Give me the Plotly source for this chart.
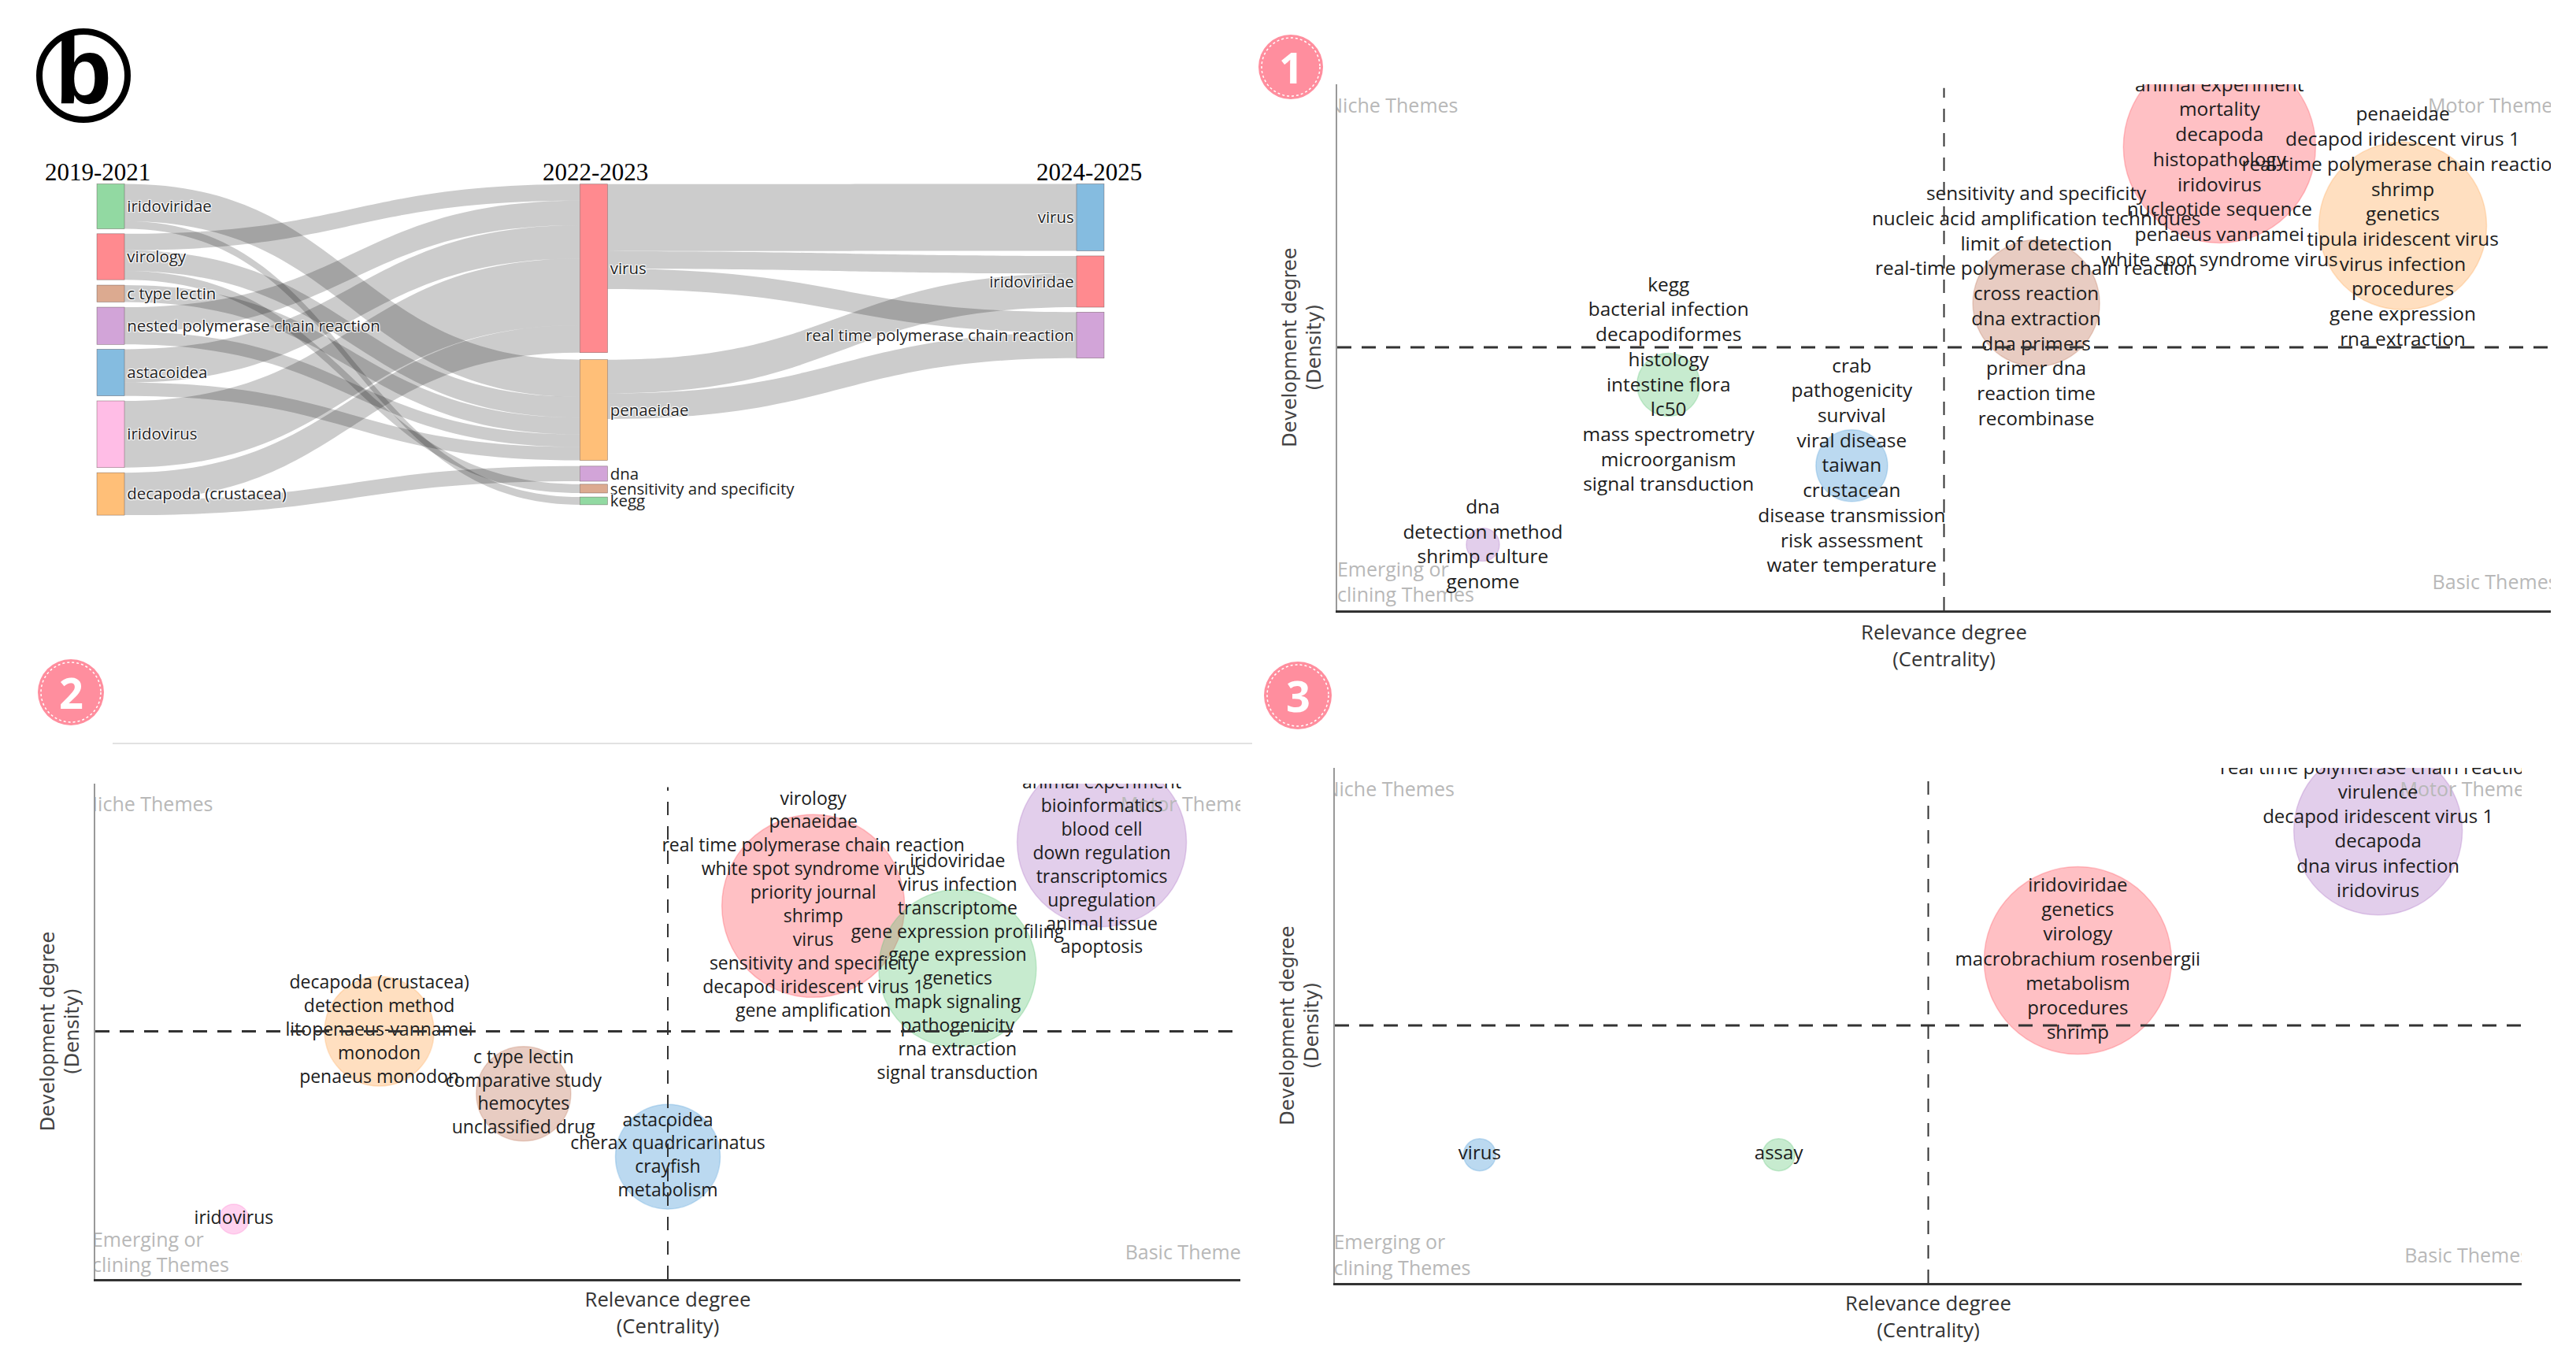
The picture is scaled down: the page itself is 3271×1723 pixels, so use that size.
import plotly.graph_objects as go

W, H = 3271, 1723
LABEL_FONT = "Open Sans"

# ---------- Sankey data ----------
node_labels = ["iridoviridae", "virology", "c type lectin", "nested polymerase chain reaction",
               "astacoidea", "iridovirus", "decapoda (crustacea)",
               "virus", "penaeidae", "dna", "sensitivity and specificity", "kegg",
               "virus", "iridoviridae", "real time polymerase chain reaction"]
node_colors = ["#92d9a2", "#ff8a8f", "#dcaa90", "#d2a4d8", "#85bce0", "#ffbde6", "#ffbf78",
               "#ff8a8f", "#ffbf78", "#d2a4d8", "#dcaa90", "#92d9a2",
               "#85bce0", "#ff8a8f", "#d2a4d8"]
node_x = [0.0137] * 7 + [0.4933] * 5 + [0.9863] * 3
node_y = [0.0678, 0.2197, 0.3307, 0.428, 0.569, 0.755, 0.935,
          0.2547, 0.682, 0.874, 0.919, 0.956,
          0.101, 0.2945, 0.4561]
link_source = [0, 0, 1, 1, 1, 2, 3, 3, 4, 4, 5, 6, 6, 7, 7, 7, 8, 8]
link_target = [8, 11, 7, 8, 10, 8, 7, 8, 7, 8, 7, 7, 9, 12, 13, 14, 13, 14]
link_value = [106, 22, 47, 59, 25, 48, 70, 36, 95, 38, 190, 78, 43, 191, 50, 58, 96, 73]
period_labels = ["2019-2021", "2022-2023", "2024-2025"]
period_x_px = [124, 756, 1383]

# ---------- Thematic map data (x and y read as percent of each axis) ----------
p1_x = [72.7, 87.8, 57.6, 27.3, 42.4, 12.0]
p1_y = [88.1, 73.1, 58.4, 42.9, 27.5, 12.5]
p1_size = [244, 213, 161, 80, 91, 42]
p1_color = ["red", "orange", "brown", "green", "blue", "purple"]
p1_label_y = [83.0, 72.6, 57.5, 42.6, 27.2, 12.2]
p1_labels = [
    ["animal experiment", "mortality", "decapoda", "histopathology", "iridovirus",
     "nucleotide sequence", "penaeus vannamei", "white spot syndrome virus"],
    ["penaeidae", "decapod iridescent virus 1", "real-time polymerase chain reaction", "shrimp",
     "genetics", "tipula iridescent virus", "virus infection", "procedures", "gene expression",
     "rna extraction"],
    ["sensitivity and specificity", "nucleic acid amplification techniques", "limit of detection",
     "real-time polymerase chain reaction", "cross reaction", "dna extraction", "dna primers",
     "primer dna", "reaction time", "recombinase"],
    ["kegg", "bacterial infection", "decapodiformes", "histology", "intestine flora", "lc50",
     "mass spectrometry", "microorganism", "signal transduction"],
    ["crab", "pathogenicity", "survival", "viral disease", "taiwan", "crustacean",
     "disease transmission", "risk assessment", "water temperature"],
    ["dna", "detection method", "shrimp culture", "genome"],
]

p2_x = [62.7, 87.9, 75.3, 24.8, 37.4, 50.0, 12.1]
p2_y = [75.3, 88.2, 62.7, 50.0, 37.4, 24.7, 12.1]
p2_size = [232, 215, 200, 139, 120, 133, 38]
p2_color = ["red", "purple", "green", "orange", "brown", "blue", "pink"]
p2_label_y = [75.3, 83.3, 62.7, 50.0, 37.4, 24.7, 12.1]
p2_labels = [
    ["virology", "penaeidae", "real time polymerase chain reaction", "white spot syndrome virus",
     "priority journal", "shrimp", "virus", "sensitivity and specificity",
     "decapod iridescent virus 1", "gene amplification"],
    ["animal experiment", "bioinformatics", "blood cell", "down regulation", "transcriptomics",
     "upregulation", "animal tissue", "apoptosis"],
    ["iridoviridae", "virus infection", "transcriptome", "gene expression profiling",
     "gene expression", "genetics", "mapk signaling", "pathogenicity", "rna extraction",
     "signal transduction"],
    ["decapoda (crustacea)", "detection method", "litopenaeus-vannamei", "monodon",
     "penaeus monodon"],
    ["c type lectin", "comparative study", "hemocytes", "unclassified drug"],
    ["astacoidea", "cherax quadricarinatus", "crayfish", "metabolism"],
    ["iridovirus"],
]

p3_x = [62.6, 87.9, 12.2, 37.4]
p3_y = [62.6, 87.8, 24.9, 24.9]
p3_size = [238, 214, 41, 41]
p3_color = ["red", "purple", "blue", "green"]
p3_label_y = [62.6, 87.8, 24.9, 24.9]
p3_labels = [
    ["iridoviridae", "genetics", "virology", "macrobrachium rosenbergii", "metabolism",
     "procedures", "shrimp"],
    ["real time polymerase chain reaction", "virulence", "decapod iridescent virus 1", "decapoda",
     "dna virus infection", "iridovirus"],
    ["virus"],
    ["assay"],
]

quadrant_labels = [["Niche Themes"], ["Motor Themes"], ["Emerging or", "Declining Themes"], ["Basic Themes"]]
quadrant_x = [4.6, 95.4, 4.6, 95.4]
quadrant_y = [95.5, 95.5, 5, 5]

FILL = {"red": "rgba(255,90,100,0.38)", "orange": "rgba(255,165,80,0.36)",
        "brown": "rgba(190,115,85,0.36)", "green": "rgba(90,195,115,0.34)",
        "blue": "rgba(75,155,215,0.38)", "purple": "rgba(170,110,195,0.34)",
        "pink": "rgba(255,130,210,0.36)"}
EDGE = {"red": "rgba(255,90,100,0.35)", "orange": "rgba(255,165,80,0.3)",
        "brown": "rgba(190,115,85,0.3)", "green": "rgba(90,195,115,0.3)",
        "blue": "rgba(75,155,215,0.3)", "purple": "rgba(170,110,195,0.3)",
        "pink": "rgba(255,130,210,0.3)"}

# pixel boxes: left, right, top, bottom
panels = [
    dict(box=(1698, 3239, 107, 775), x=p1_x, y=p1_y, s=p1_size, c=p1_color, ly=p1_label_y, t=p1_labels, fs=24.4, so=18),
    dict(box=(121, 1575, 995, 1624), x=p2_x, y=p2_y, s=p2_size, c=p2_color, ly=p2_label_y, t=p2_labels, fs=23, so=16),
    dict(box=(1695, 3202, 975, 1629), x=p3_x, y=p3_y, s=p3_size, c=p3_color, ly=p3_label_y, t=p3_labels, fs=24, so=16),
]


def fx(px):
    return px / W


def fy(py):
    return 1 - py / H


fig = go.Figure()

fig.add_trace(go.Sankey(
    domain=dict(x=[fx(123), fx(1402)], y=[fy(654.5), fy(233.5)]),
    arrangement="fixed",
    node=dict(label=node_labels, color=node_colors, x=node_x, y=node_y, pad=6.5, thickness=35,
              line=dict(color="rgba(80,60,60,0.6)", width=0.6), hoverinfo="skip"),
    link=dict(source=link_source, target=link_target, value=link_value, color="rgba(0,0,0,0.2)"),
    textfont=dict(family=LABEL_FONT, size=20.4, color="#222"),
))

layout_axes = {}
shapes = []
annotations = []
for i, p in enumerate(panels, start=1):
    l, r, t, b = p["box"]
    xn, yn = f"xaxis{i}", f"yaxis{i}"
    xr, yr = f"x{i}", f"y{i}"
    layout_axes[xn] = dict(domain=[fx(l), fx(r)], range=[0, 100], anchor=yr, showgrid=False, zeroline=False,
                           showticklabels=False, ticks="", showline=True, linecolor="#333", linewidth=3,
                           title=dict(text="Relevance degree<br>(Centrality)", standoff=p["so"],
                                      font=dict(family=LABEL_FONT, size=25.7, color="#333")))
    layout_axes[yn] = dict(domain=[fy(b), fy(t)], range=[0, 100], anchor=xr, showgrid=False, zeroline=False,
                           showticklabels=False, ticks="", showline=True, linecolor="#999", linewidth=1.5,
                           title=dict(text="Development degree<br>(Density)", standoff=12,
                                      font=dict(family="DejaVu Sans", size=24, color="#444")))
    fig.add_trace(go.Scatter(
        x=p["x"], y=p["y"], xaxis=xr, yaxis=yr, mode="markers", cliponaxis=True, hoverinfo="skip",
        marker=dict(size=p["s"], sizemode="diameter", opacity=1, color=[FILL[c] for c in p["c"]],
                    line=dict(color=[EDGE[c] for c in p["c"]], width=1.5)), showlegend=False))
    fig.add_trace(go.Scatter(
        x=quadrant_x, y=quadrant_y, xaxis=xr, yaxis=yr, mode="text", text=["<br>".join(q) for q in quadrant_labels],
        cliponaxis=True, textposition="middle center", textfont=dict(family=LABEL_FONT, size=25, color="#b8b8b8"),
        hoverinfo="skip", showlegend=False))
    fig.add_trace(go.Scatter(
        x=p["x"], y=p["ly"], xaxis=xr, yaxis=yr, mode="text", text=["<br>".join(v) for v in p["t"]],
        cliponaxis=True, textposition="middle center",
        textfont=dict(family=LABEL_FONT, size=p["fs"], color="#1c1c1c"), hoverinfo="skip", showlegend=False))
    shapes.append(dict(type="line", xref=xr, yref=yr, x0=0, x1=100, y0=50, y1=50,
                       line=dict(color="#333", width=3, dash="18px,13px")))
    shapes.append(dict(type="line", xref=xr, yref=yr, x0=50, x1=50, y0=0, y1=99.3,
                       line=dict(color="#333", width=2, dash="17px,14px")))

# light rule above panel 2
shapes.append(dict(type="line", xref="paper", yref="paper", x0=fx(143), x1=fx(1590), y0=fy(944), y1=fy(944),
                   line=dict(color="#e2e2e2", width=2)))

# badges
badge_text = ["1", "2", "3"]
badge_pos = [(1639, 85, 41), (90, 879, 42), (1648, 883, 43)]
for txt, (cx, cy, rad) in zip(badge_text, badge_pos):
    shapes.append(dict(type="circle", xref="paper", yref="paper", x0=fx(cx - rad), x1=fx(cx + rad),
                       y0=fy(cy + rad), y1=fy(cy - rad), fillcolor="#ff8e9e", line=dict(width=0)))
    shapes.append(dict(type="circle", xref="paper", yref="paper", x0=fx(cx - rad + 4), x1=fx(cx + rad - 4),
                       y0=fy(cy + rad - 4), y1=fy(cy - rad + 4), line=dict(color="white", width=1.5, dash="3px,3px")))
    annotations.append(dict(text=f"<b>{txt}</b>", x=fx(cx), y=fy(cy), xref="paper", yref="paper", showarrow=False,
                            xanchor="center", yanchor="middle", font=dict(family="Open Sans", size=54, color="white")))

# panel letter
shapes.append(dict(type="circle", xref="paper", yref="paper", x0=fx(50), x1=fx(162), y0=fy(152), y1=fy(40),
                   line=dict(color="black", width=8)))
annotations.append(dict(text="<b>b</b>", x=fx(106), y=fy(90), xref="paper", yref="paper", showarrow=False,
                        xanchor="center", yanchor="middle",
                        font=dict(family="Liberation Sans", size=118, color="black")))

for txt, xp in zip(period_labels, period_x_px):
    annotations.append(dict(text=txt, x=fx(xp), y=fy(219), xref="paper", yref="paper", showarrow=False,
                            xanchor="center", yanchor="middle",
                            font=dict(family="Liberation Serif", size=31, color="black")))

fig.update_layout(width=W, height=H, autosize=False, margin=dict(l=0, r=0, t=0, b=0),
                  paper_bgcolor="white", plot_bgcolor="white", showlegend=False,
                  shapes=shapes, annotations=annotations, **layout_axes)
fig.write_html("out.html", config={"displayModeBar": False}, post_script="document.body.style.margin='0';")
